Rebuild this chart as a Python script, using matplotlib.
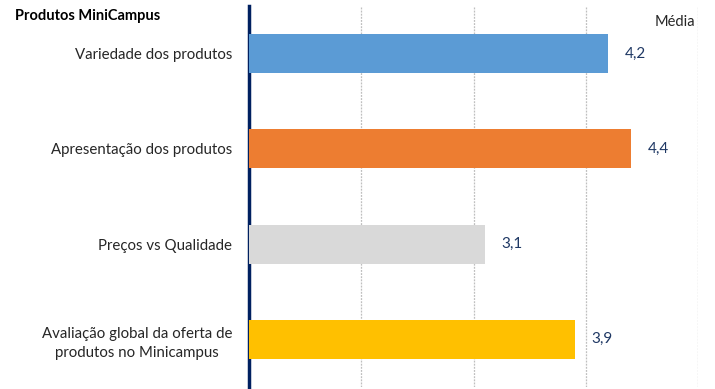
import matplotlib
matplotlib.use("Agg")
import matplotlib.pyplot as plt

categories = [
    "Variedade dos produtos",
    "Apresentação dos produtos",
    "Preços vs Qualidade",
    "Avaliação global da oferta de\nprodutos no Minicampus",
]
values = [4.2, 4.4, 3.1, 3.9]
colors = ["#5B9BD5", "#ED7D31", "#D9D9D9", "#FFC000"]
value_labels = ["4,2", "4,4", "3,1", "3,9"]
title = "Produtos MiniCampus"
axis_label = "Média"

plt.rcParams["font.family"] = ["Lato", "DejaVu Sans"]

fig = plt.figure(figsize=(7.15, 3.89), dpi=100)
ax = fig.add_axes([249 / 715, 2 / 389, (698 - 249) / 715, 381 / 389])

base = 1.0
ypos = list(range(len(categories)))
ax.barh(ypos, [v - base for v in values], left=base, height=0.41,
        color=colors, zorder=3)

for y, v, lab in zip(ypos, values, value_labels):
    ax.text(v + 0.15, y, lab, va="center", ha="left", fontsize=11,
            color="#1F3864", zorder=4)

ax.set_xlim(1, 5)
ax.set_ylim(len(categories) - 0.5, -0.5)
ax.set_xticks([2, 3, 4, 5])
ax.xaxis.grid(True, color="#BFBFBF", linestyle=(0, (1.5, 1)), linewidth=0.9)
ax.set_axisbelow(True)
ax.tick_params(axis="x", length=0, labelbottom=False)

ax.set_yticks(ypos)
ax.set_yticklabels(categories, fontsize=10.8, color="#262626",
                   ha="right", multialignment="center", linespacing=1.45)
ax.tick_params(axis="y", length=0, pad=12)

for s in ["top", "right", "bottom"]:
    ax.spines[s].set_visible(False)
ax.spines["left"].set_color("#002060")
ax.spines["left"].set_linewidth(2.5)

fig.text(15 / 715, 1 - 16 / 389, title, fontsize=10.5, fontweight="bold",
         color="#000000", va="center", ha="left")
fig.text(695 / 715, 1 - 22 / 389, axis_label, fontsize=10.5,
         color="#262626", va="center", ha="right")

fig.savefig("out.png", dpi=100, facecolor="white")
